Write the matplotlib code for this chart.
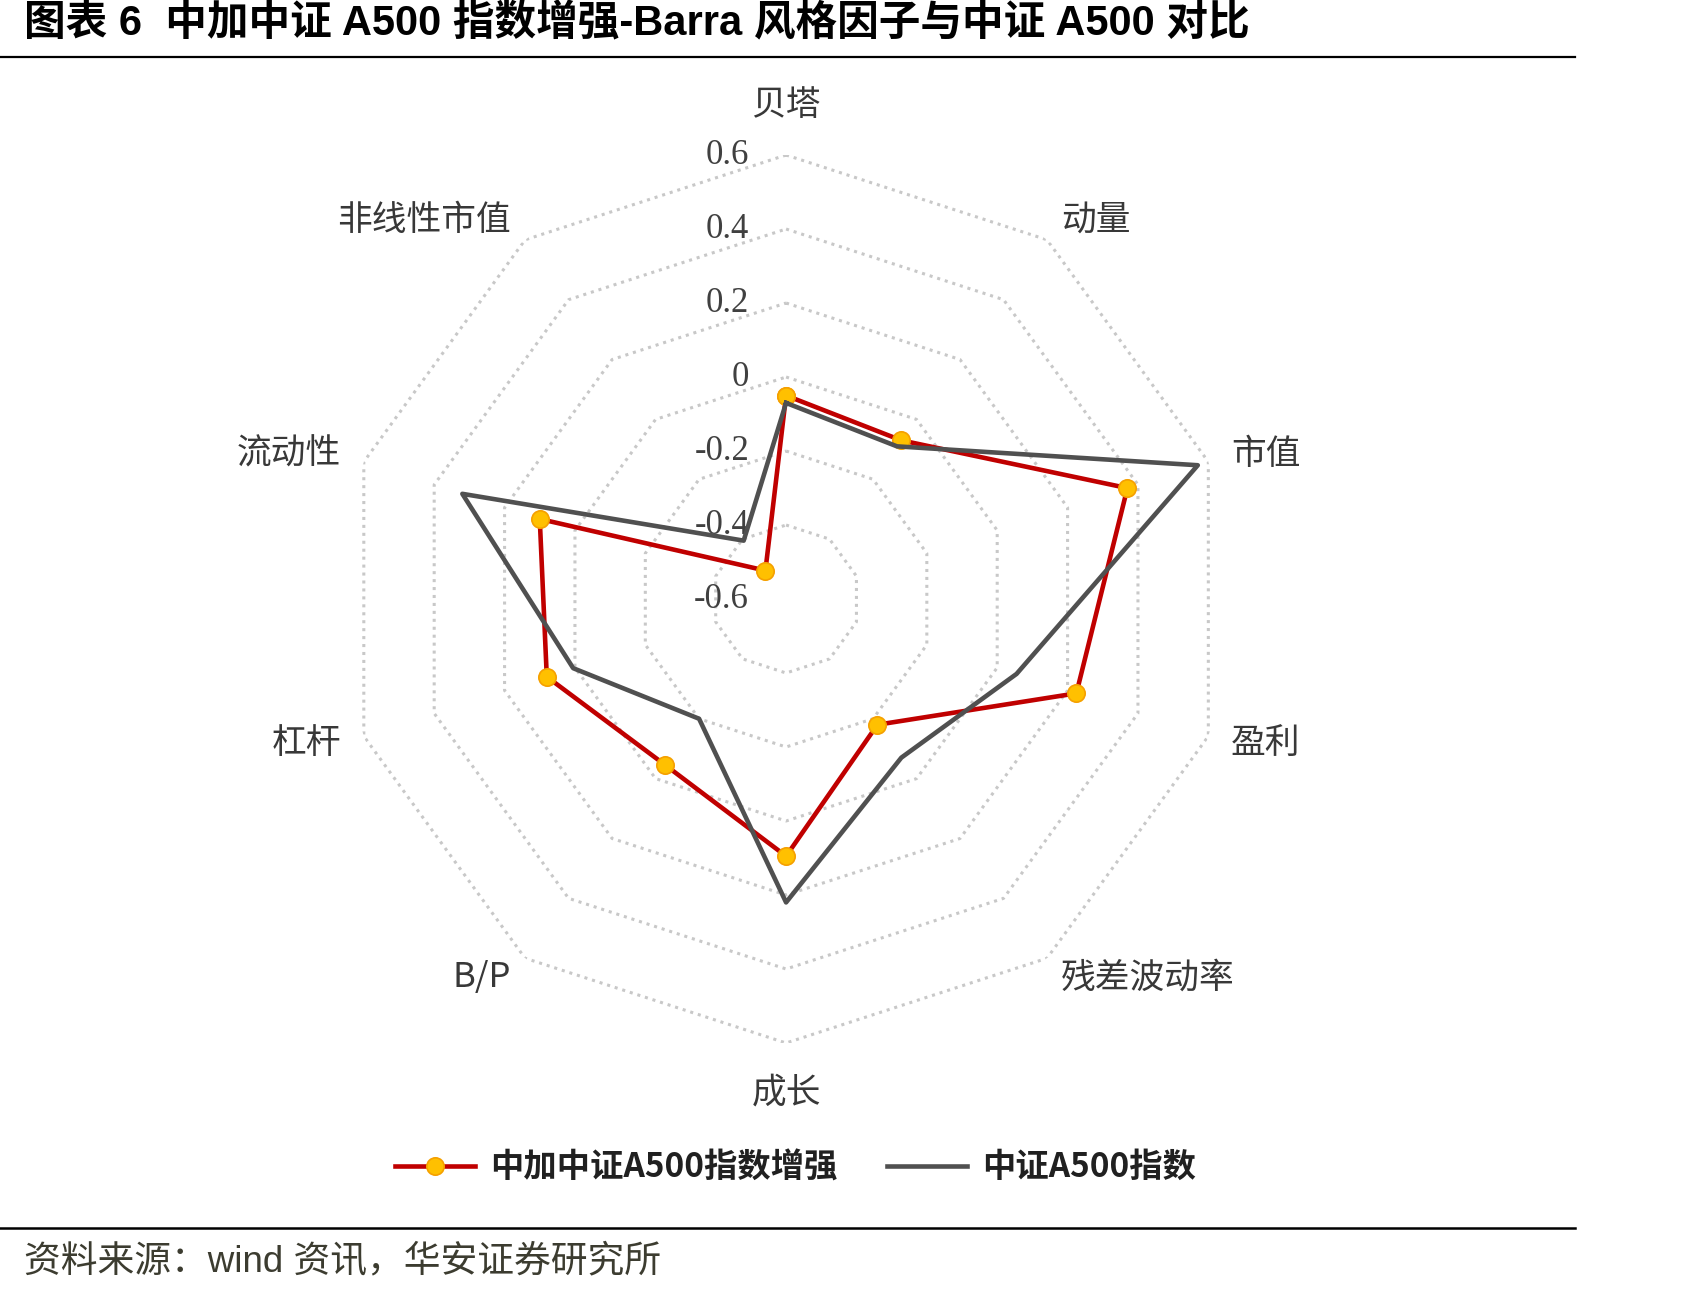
import numpy as np
import matplotlib
matplotlib.use('Agg')
import matplotlib.pyplot as plt
from matplotlib.lines import Line2D

plt.rcParams['font.family'] = ['Noto Sans CJK SC', 'DejaVu Sans']

# factor exposures
categories = ['贝塔', '动量', '市值', '盈利', '残差波动率', '成长', 'B/P', '杠杆', '流动性', '非线性市值']
enhanced = [-0.05, -0.07, 0.37, 0.225, -0.18, 0.095, -0.045, 0.08, 0.10, -0.505]
index_a500 = [-0.07, -0.09, 0.57, 0.055, -0.07, 0.22, -0.20, 0.005, 0.32, -0.405]
ring_levels = [-0.6, -0.4, -0.2, 0, 0.2, 0.4, 0.6]
ring_labels = ['-0.6', '-0.4', '-0.2', '0', '0.2', '0.4', '0.6']

series_names = ['中加中证A500指数增强', '中证A500指数']
title = '图表 6  中加中证 A500 指数增强-Barra 风格因子与中证 A500 对比'
source = '资料来源：wind 资讯，华安证券研究所'

fig = plt.figure(figsize=(17.07, 12.96), dpi=100)
ax = fig.add_axes([0.2004, 0.1952, 0.5202, 0.6852], projection='polar')
ax.set_theta_zero_location('N')
ax.set_theta_direction(-1)
ax.set_ylim(-0.6, 0.6)
ax.grid(False)
ax.spines['polar'].set_visible(False)
ax.set_xticks([])
ax.set_yticks([])

n = len(categories)
angles = np.arange(n) * 2 * np.pi / n
closed = np.append(angles, angles[0])

# decagon rings
for lvl in ring_levels[1:]:
    ax.plot(closed, [lvl] * (n + 1), color='#c8c8c8', lw=2.2, ls=(0, (1, 1.6)), zorder=1)

# ring value labels
for lvl, lab in zip(ring_levels, ring_labels):
    ax.annotate(lab, xy=(0, lvl), xytext=(-37, 0), textcoords='offset pixels',
                ha='right', va='center', fontsize=25, color='#404040',
                family=['Liberation Serif', 'DejaVu Serif'])

# category labels
for ang, lab in zip(angles, categories):
    s = np.sin(ang)
    if abs(s) < 0.1:
        ax.text(ang, 0.735, lab, ha='center', va='center', fontsize=25, color='#383838')
    else:
        ax.text(ang, 0.665, lab, ha='left' if s > 0 else 'right', va='center',
                fontsize=25, color='#383838')

red = '#C00000'
gray = '#505050'
ax.plot(closed, enhanced + enhanced[:1], color=red, lw=3.3, marker='o', ms=12.5,
        mfc='#FFC000', mec='#F5A000', mew=1.2, zorder=3, label=series_names[0])
ax.plot(closed, index_a500 + index_a500[:1], color=gray, lw=3.3, zorder=4,
        label=series_names[1])

leg = fig.legend(loc='center', bbox_to_anchor=(0.466, 0.099), ncol=2, frameon=False,
                 prop={'size': 24, 'weight': 'bold'}, handlelength=2.4,
                 columnspacing=1.5, handletextpad=0.45)
for t in leg.get_texts():
    t.set_color('#202020')

fig.text(0.014, 0.981, title, ha='left', va='center', fontsize=30, fontweight='bold',
         family=['Liberation Sans', 'Noto Sans CJK SC'])
fig.add_artist(Line2D([0, 0.9227], [0.9563, 0.9563], transform=fig.transFigure,
                      color='black', lw=1.6))
fig.add_artist(Line2D([0, 0.9227], [0.0525, 0.0525], transform=fig.transFigure,
                      color='black', lw=1.8))
fig.text(0.014, 0.0255, source, ha='left', va='center', fontsize=26.5, color='#3c3c30',
         family=['Liberation Sans', 'Noto Sans CJK SC'])

fig.savefig('out.png', dpi=100)
